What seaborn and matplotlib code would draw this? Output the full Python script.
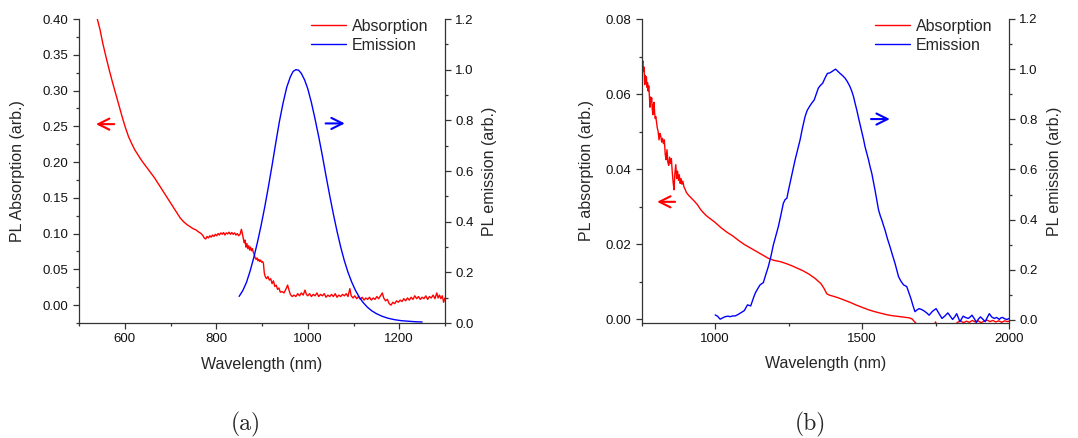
import matplotlib
matplotlib.use("Agg")
import matplotlib.pyplot as plt
from matplotlib.ticker import MultipleLocator, FormatStrFormatter
import seaborn as sns
import pandas as pd

# ---------------- panel (a) ----------------
abs_a_nm = [540, 546, 552, 559, 566, 573, 580, 587, 594, 601, 608, 615, 622, 630, 637, 644, 651, 658,
            665, 672, 679, 686, 693, 700, 707, 714, 721, 728, 735, 742, 749, 756, 762, 767, 771, 774,
            777, 780, 783, 786, 789, 792, 795, 798, 801, 804, 807, 810, 813, 816, 819, 822, 825, 828,
            831, 834, 837, 840, 843, 846, 849, 852, 855, 858, 861, 863, 865, 867, 869, 871, 873, 875,
            877, 879, 881, 883, 885, 887, 889, 891, 893, 895, 897, 899, 901, 903, 905, 907, 910, 913,
            916, 919, 922, 925, 928, 931, 934, 937, 940, 944, 948, 952, 956, 959, 962, 966, 970, 974,
            978, 982, 986, 990, 994, 997, 1000, 1004, 1008, 1012, 1016, 1020, 1024, 1028, 1032, 1036,
            1040, 1044, 1048, 1052, 1056, 1060, 1064, 1068, 1072, 1076, 1080, 1084, 1088, 1092, 1095,
            1099, 1103, 1107, 1111, 1115, 1119, 1123, 1127, 1131, 1135, 1139, 1143, 1147, 1151, 1155,
            1159, 1163, 1166, 1170, 1174, 1178, 1182, 1186, 1190, 1194, 1198, 1202, 1206, 1210, 1214,
            1218, 1222, 1226, 1230, 1234, 1238, 1242, 1246, 1250, 1254, 1258, 1262, 1266, 1270, 1274,
            1278, 1282, 1285, 1288, 1291, 1294, 1297, 1300]
abs_a = [0.400, 0.385, 0.366, 0.347, 0.329, 0.312, 0.296, 0.280, 0.264, 0.249, 0.236, 0.226, 0.217,
         0.209, 0.202, 0.196, 0.190, 0.184, 0.178, 0.171, 0.164, 0.157, 0.150, 0.143, 0.136, 0.129,
         0.122, 0.117, 0.113, 0.110, 0.107, 0.105, 0.102, 0.100, 0.097, 0.0935, 0.0925, 0.096, 0.094,
         0.097, 0.095, 0.098, 0.096, 0.099, 0.097, 0.100, 0.098, 0.101, 0.099, 0.1015, 0.098, 0.101,
         0.0995, 0.102, 0.099, 0.1015, 0.099, 0.101, 0.098, 0.100, 0.097, 0.099, 0.106, 0.097, 0.087,
         0.091, 0.081, 0.086, 0.079, 0.083, 0.077, 0.081, 0.076, 0.079, 0.074, 0.071, 0.066, 0.064,
         0.066, 0.062, 0.064, 0.061, 0.063, 0.060, 0.061, 0.059, 0.045, 0.040, 0.037, 0.040, 0.035,
         0.037, 0.030, 0.034, 0.026, 0.028, 0.022, 0.024, 0.018, 0.019, 0.017, 0.022, 0.028, 0.021,
         0.015, 0.012, 0.014, 0.012, 0.016, 0.013, 0.017, 0.014, 0.021, 0.015, 0.013, 0.016, 0.012,
         0.015, 0.013, 0.017, 0.012, 0.015, 0.013, 0.016, 0.011, 0.014, 0.012, 0.015, 0.012, 0.016,
         0.011, 0.014, 0.012, 0.015, 0.013, 0.016, 0.012, 0.023, 0.013, 0.010, 0.013, 0.009, 0.012,
         0.008, 0.011, 0.007, 0.010, 0.008, 0.011, 0.007, 0.010, 0.008, 0.012, 0.009, 0.013, 0.017,
         0.010, 0.006, 0.008, 0.002, 0.000, 0.004, 0.002, 0.006, 0.004, 0.007, 0.005, 0.009, 0.006,
         0.010, 0.007, 0.011, 0.008, 0.013, 0.009, 0.012, 0.008, 0.011, 0.009, 0.013, 0.008, 0.012,
         0.010, 0.014, 0.009, 0.017, 0.010, 0.014, 0.009, 0.013, 0.004, 0.010]

em_a_nm = [850, 858, 866, 874, 882, 890, 898, 906, 914, 922, 930, 938, 946, 954, 962, 968, 974, 980,
           986, 993, 1000, 1008, 1016, 1024, 1032, 1040, 1048, 1056, 1064, 1072, 1080, 1088, 1096,
           1104, 1112, 1120, 1130, 1140, 1150, 1162, 1175, 1190, 1205, 1220, 1235, 1250]
em_a = [0.105, 0.128, 0.160, 0.205, 0.258, 0.318, 0.385, 0.458, 0.538, 0.622, 0.710, 0.795, 0.868,
        0.930, 0.972, 0.993, 1.000, 0.998, 0.985, 0.960, 0.925, 0.870, 0.805, 0.735, 0.660, 0.580,
        0.503, 0.430, 0.362, 0.300, 0.246, 0.200, 0.162, 0.130, 0.104, 0.083, 0.063, 0.048, 0.037,
        0.027, 0.019, 0.013, 0.009, 0.007, 0.005, 0.004]

# ---------------- panel (b) ----------------
abs_b_nm = [750, 752, 754, 756, 758, 760, 762, 764, 766, 768, 770, 772, 774, 776, 778, 780, 782, 784,
            786, 788, 790, 792, 794, 796, 798, 800, 803, 806, 809, 812, 815, 818, 821, 824, 827, 830,
            833, 836, 839, 842, 845, 848, 851, 854, 857, 860, 863, 866, 869, 872, 875, 878, 881, 884,
            887, 890, 894, 898, 902, 906, 910, 915, 920, 925, 930, 940, 950, 960, 970, 980, 990, 1000,
            1020, 1040, 1060, 1080, 1100, 1120, 1140, 1160, 1180, 1200, 1220, 1240, 1260, 1280, 1300,
            1320, 1340, 1360, 1370, 1380, 1390, 1400, 1420, 1440, 1460, 1480, 1500, 1520, 1540, 1560,
            1580, 1600, 1620, 1640, 1660, 1670, 1678, 1690, 1720, 1745, 1750, 1755, 1790, 1815, 1825,
            1835, 1845, 1855, 1865, 1875, 1885, 1895, 1905, 1915, 1925, 1935, 1945, 1955, 1965, 1975,
            1985, 1995, 2000]
abs_b = [0.0695, 0.0680, 0.0688, 0.0660, 0.0672, 0.0625, 0.0650, 0.0628, 0.0646, 0.0618, 0.0630,
         0.0608, 0.0622, 0.0598, 0.0565, 0.0592, 0.0580, 0.0590, 0.0560, 0.0545, 0.0572, 0.0578,
         0.0550, 0.0535, 0.0540, 0.0528, 0.0510, 0.0500, 0.0478, 0.0495, 0.0488, 0.0472, 0.0482,
         0.0468, 0.0478, 0.0440, 0.0425, 0.0452, 0.0418, 0.0410, 0.0432, 0.0415, 0.0428, 0.0392,
         0.0365, 0.0345, 0.0390, 0.0412, 0.0375, 0.0395, 0.0370, 0.0385, 0.0362, 0.0375, 0.0360,
         0.0368, 0.0352, 0.0346, 0.0338, 0.0334, 0.0330, 0.0326, 0.0322, 0.0318, 0.0314, 0.0305,
         0.0293, 0.0284, 0.0276, 0.0270, 0.0264, 0.0258, 0.0244, 0.0232, 0.0222, 0.0210, 0.0199,
         0.0190, 0.0181, 0.0172, 0.0163, 0.0157, 0.0154, 0.0149, 0.0143, 0.0136, 0.0129, 0.0120,
         0.0109, 0.0095, 0.0083, 0.0068, 0.0064, 0.0062, 0.0057, 0.0051, 0.0045, 0.0038, 0.0032,
         0.0026, 0.0021, 0.0017, 0.0013, 0.0010, 0.0008, 0.0006, 0.0004, 0.0001, -0.0006, -0.0016,
         -0.0020, -0.0018, -0.0007, -0.0018, -0.0020, -0.0016, -0.0008, -0.0004, -0.0009, -0.0005,
         -0.0008, -0.0003, -0.0007, -0.0004, -0.0009, -0.0005, -0.0002, -0.0006, -0.0003, -0.0007,
         -0.0004, -0.0008, -0.0004, -0.0006, -0.0005]

em_b_nm = [1000, 1008, 1017, 1025, 1034, 1043, 1051, 1060, 1068, 1077, 1085, 1092, 1099, 1105, 1110,
           1116, 1121, 1128, 1136, 1145, 1153, 1159, 1164, 1172, 1181, 1190, 1198, 1207, 1215, 1224,
           1232, 1238, 1244, 1250, 1257, 1265, 1272, 1280, 1289, 1297, 1306, 1313, 1321, 1329, 1337,
           1344, 1351, 1358, 1366, 1374, 1382, 1390, 1397, 1404, 1410, 1418, 1425, 1434, 1442, 1450,
           1459, 1465, 1471, 1476, 1482, 1490, 1499, 1505, 1510, 1516, 1522, 1527, 1533, 1538, 1544,
           1550, 1556, 1562, 1567, 1572, 1578, 1586, 1595, 1603, 1612, 1618, 1624, 1632, 1641, 1647,
           1652, 1659, 1666, 1673, 1680, 1687, 1694, 1702, 1711, 1720, 1728, 1740, 1752, 1762, 1772,
           1782, 1792, 1800, 1808, 1815, 1822, 1833, 1844, 1852, 1861, 1868, 1874, 1882, 1889, 1896,
           1903, 1911, 1919, 1926, 1933, 1941, 1950, 1958, 1967, 1972, 1978, 1986, 1994, 2000]
em_b = [0.020, 0.015, 0.003, 0.008, 0.013, 0.015, 0.013, 0.016, 0.016, 0.021, 0.027, 0.032, 0.037,
        0.050, 0.060, 0.058, 0.056, 0.080, 0.106, 0.125, 0.140, 0.145, 0.149, 0.180, 0.213, 0.255,
        0.299, 0.338, 0.372, 0.420, 0.465, 0.480, 0.485, 0.520, 0.558, 0.600, 0.638, 0.676, 0.718,
        0.765, 0.811, 0.835, 0.851, 0.865, 0.877, 0.900, 0.924, 0.935, 0.944, 0.965, 0.983, 0.985,
        0.990, 0.996, 1.000, 0.991, 0.983, 0.974, 0.964, 0.950, 0.930, 0.912, 0.890, 0.865, 0.837,
        0.795, 0.751, 0.720, 0.691, 0.665, 0.638, 0.612, 0.585, 0.555, 0.518, 0.478, 0.439, 0.415,
        0.399, 0.380, 0.359, 0.325, 0.292, 0.260, 0.226, 0.200, 0.173, 0.155, 0.140, 0.136, 0.133,
        0.110, 0.086, 0.058, 0.033, 0.040, 0.045, 0.042, 0.036, 0.028, 0.019, 0.035, 0.045, 0.025,
        0.006, 0.016, 0.028, 0.015, 0.002, 0.012, 0.025, -0.007, 0.015, 0.010, 0.006, 0.012, 0.019,
        0.005, -0.010, 0.004, 0.012, 0.003, -0.007, 0.010, 0.025, 0.012, 0.006, 0.010, 0.002, 0.008,
        0.010, 0.004, 0.002, 0.006]

panel_labels = ["(a)", "(b)"]
left_labels = ["PL Absorption (arb.)", "PL absorption (arb.)"]
right_label = "PL emission (arb.)"
x_label = "Wavelength (nm)"
series_names = ["Absorption", "Emission"]

RED = "#ff0000"
BLUE = "#0000ff"
SPINE = "#333333"

sns.set_theme(style="ticks")
plt.rcParams["font.family"] = ["Liberation Sans", "DejaVu Sans"]
plt.rcParams["axes.linewidth"] = 0.9
plt.rcParams["xtick.color"] = SPINE
plt.rcParams["ytick.color"] = SPINE
plt.rcParams["xtick.labelcolor"] = "#111111"
plt.rcParams["ytick.labelcolor"] = "#111111"

fig = plt.figure(figsize=(10.78, 4.38), dpi=100)
W, H = 1078, 438


def make_axes(l, r, t, b):
    return fig.add_axes([l / W, 1 - b / H, (r - l) / W, (b - t) / H])


def style_axes(ax, tw):
    for a in (ax, tw):
        a.spines["top"].set_visible(False)
        for s in a.spines.values():
            s.set_color(SPINE)
        a.tick_params(which="major", direction="out", length=4.5, width=0.9, labelsize=9.5, pad=3)
        a.tick_params(which="minor", direction="out", length=2.5, width=0.9)
    tw.spines["left"].set_visible(False)
    tw.spines["bottom"].set_visible(False)
    ax.spines["right"].set_visible(False)


def draw_panel(ax, df_abs, df_em, lab_left, leg_anchor):
    tw = ax.twinx()
    sns.lineplot(data=df_abs, x="nm", y="val", ax=ax, color=RED, lw=1.0,
                 estimator=None, sort=False, label=series_names[0], legend=False)
    sns.lineplot(data=df_em, x="nm", y="val", ax=tw, color=BLUE, lw=1.0,
                 estimator=None, sort=False, label=series_names[1], legend=False)
    style_axes(ax, tw)
    ax.set_xlabel(x_label, fontsize=11.5)
    ax.set_ylabel(lab_left, fontsize=11.5)
    tw.set_ylabel(right_label, fontsize=11.5)
    ax.xaxis.set_label_coords(0.5, -0.135)
    ax.xaxis.label.set_va("center")
    handles = [ax.get_lines()[0], tw.get_lines()[0]]
    tw.legend(handles, series_names, loc="upper right", bbox_to_anchor=leg_anchor,
              frameon=False, fontsize=11.5, handlelength=2.2, handletextpad=0.35,
              labelspacing=0.25, borderpad=0.0, borderaxespad=0.0)
    return tw


ARROW = dict(arrowstyle="->", lw=1.5, mutation_scale=20)

# panel (a)
ax_a = make_axes(79, 445, 19, 323)
df_abs_a = pd.DataFrame({"nm": abs_a_nm, "val": abs_a})
df_em_a = pd.DataFrame({"nm": em_a_nm, "val": em_a})
tw_a = draw_panel(ax_a, df_abs_a, df_em_a, left_labels[0], (0.955, 1.0))
ax_a.set_xlim(500, 1300)
ax_a.set_ylim(-0.025, 0.40)
tw_a.set_ylim(0.0, 1.2)
ax_a.set_xticks([600, 800, 1000, 1200])
ax_a.xaxis.set_minor_locator(MultipleLocator(100))
ax_a.set_yticks([0.0, 0.05, 0.10, 0.15, 0.20, 0.25, 0.30, 0.35, 0.40])
ax_a.yaxis.set_minor_locator(MultipleLocator(0.025))
ax_a.yaxis.set_major_formatter(FormatStrFormatter("%.2f"))
tw_a.set_yticks([0.0, 0.2, 0.4, 0.6, 0.8, 1.0, 1.2])
tw_a.yaxis.set_minor_locator(MultipleLocator(0.1))
tw_a.yaxis.set_major_formatter(FormatStrFormatter("%.1f"))
ax_a.yaxis.set_label_coords(-0.168, 0.5)
ax_a.yaxis.label.set_va("center")
tw_a.yaxis.set_label_coords(1.1216, 0.5)
tw_a.yaxis.label.set_va("center")
ax_a.annotate("", xy=(531, 0.253), xytext=(583, 0.253), arrowprops=dict(ARROW, color=RED))
ax_a.annotate("", xy=(1087, 0.254), xytext=(1033, 0.254), arrowprops=dict(ARROW, color=BLUE))

# panel (b)
ax_b = make_axes(641.7, 1009, 19, 322.7)
df_abs_b = pd.DataFrame({"nm": abs_b_nm, "val": abs_b})
df_em_b = pd.DataFrame({"nm": em_b_nm, "val": em_b})
tw_b = draw_panel(ax_b, df_abs_b, df_em_b, left_labels[1], (0.955, 1.0))
ax_b.set_xlim(750, 2000)
ax_b.set_ylim(-0.0009, 0.08)
tw_b.set_ylim(-0.011, 1.2)
ax_b.set_xticks([1000, 1500, 2000])
ax_b.xaxis.set_minor_locator(MultipleLocator(250))
ax_b.set_yticks([0.0, 0.02, 0.04, 0.06, 0.08])
ax_b.yaxis.set_minor_locator(MultipleLocator(0.01))
ax_b.yaxis.set_major_formatter(FormatStrFormatter("%.2f"))
tw_b.set_yticks([0.0, 0.2, 0.4, 0.6, 0.8, 1.0, 1.2])
tw_b.yaxis.set_minor_locator(MultipleLocator(0.1))
tw_b.yaxis.set_major_formatter(FormatStrFormatter("%.1f"))
ax_b.yaxis.set_label_coords(-0.15, 0.5)
ax_b.yaxis.label.set_va("center")
tw_b.yaxis.set_label_coords(1.125, 0.5)
tw_b.yaxis.label.set_va("center")
ax_b.annotate("", xy=(793, 0.0313), xytext=(873, 0.0313), arrowprops=dict(ARROW, color=RED))
tw_b.annotate("", xy=(1604, 0.801), xytext=(1521, 0.801), arrowprops=dict(ARROW, color=BLUE))

# sub-figure captions
fig.text(246 / W, 1 - 424 / H, panel_labels[0], fontfamily="cmr10", fontsize=17,
         ha="center", va="center")
fig.text(810 / W, 1 - 424 / H, panel_labels[1], fontfamily="cmr10", fontsize=17,
         ha="center", va="center")

fig.savefig("out.png", dpi=100)
